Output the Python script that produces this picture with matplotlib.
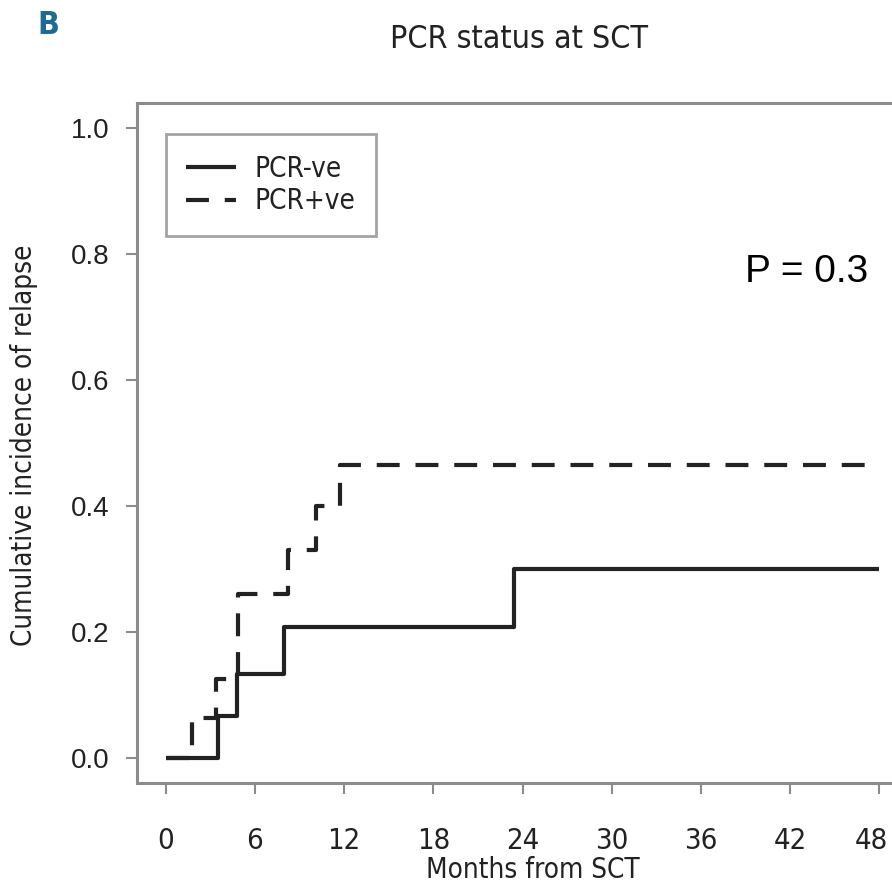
import matplotlib
matplotlib.use('Agg')
import matplotlib.pyplot as plt
import matplotlib.transforms as mtransforms

# cumulative incidence of relapse
months_neg = [0, 3.5, 4.8, 7.95, 23.4, 48]
cir_neg = [0, 0.067, 0.133, 0.207, 0.30, 0.30]

months_pos = [0, 1.75, 3.4, 4.9, 8.2, 10.1, 11.7, 48]
cir_pos = [0, 0.063, 0.125, 0.26, 0.33, 0.40, 0.465, 0.465]

x_ticks = [0, 6, 12, 18, 24, 30, 36, 42, 48]
y_ticks = [0.0, 0.2, 0.4, 0.6, 0.8, 1.0]

narrow = ['DejaVu Sans', 'Liberation Sans']
regular = ['Liberation Sans', 'DejaVu Sans']
cond = 'condensed'
txt = '#222222'
frame = '#8c8c8c'

fig = plt.figure(figsize=(8.92, 8.88), dpi=100)
ax = fig.add_axes([137 / 892, 1 - 783 / 888, 771 / 892, 680 / 888])

ax.step(months_neg, cir_neg, where='post', color='#222222', lw=3, label='PCR-ve',
        solid_capstyle='butt')
ax.step(months_pos, cir_pos, where='post', color='#222222', lw=3, label='PCR+ve',
        dashes=(5.5, 3.8), dash_capstyle='butt')

ax.set_xlim(-1.92, 49.92)
ax.set_ylim(-0.04, 1.04)
ax.set_xticks(x_ticks)
ax.set_yticks(y_ticks)
ax.set_xticklabels([str(v) for v in x_ticks], family=narrow, stretch=cond, fontsize=21,
                   color=txt)
ax.set_yticklabels(['%.1f' % v for v in y_ticks], family=regular, fontsize=20, color=txt)
ax.tick_params(axis='x', direction='out', length=8, width=1.5, color=frame, pad=24)
ax.tick_params(axis='y', direction='out', length=8, width=1.5, color=frame, pad=12)

# last label sits a little left of its tick so it stays inside the figure
last = ax.get_xticklabels()[-1]
last.set_transform(last.get_transform() +
                   mtransforms.ScaledTranslation(-8 / 100, 0, fig.dpi_scale_trans))

for s in ax.spines.values():
    s.set_color(frame)
    s.set_linewidth(2.2)

ax.set_xlabel('Months from SCT', family=narrow, stretch=cond, fontsize=20, color=txt)
ax.xaxis.set_label_coords(0.5 + (532 - 522) / 771, (783 - 856) / 680)
ax.set_ylabel('Cumulative incidence of relapse', family=narrow, stretch=cond, fontsize=20,
              color=txt)
ax.yaxis.set_label_coords((38 - 137) / 771, (783 - 445) / 680)

leg = ax.legend(loc='upper left', bbox_to_anchor=(0.037, 0.954), frameon=True,
                fancybox=False, edgecolor=frame,
                prop={'family': narrow, 'stretch': cond, 'size': 20},
                handlelength=1.8, handletextpad=0.65, labelspacing=0.15,
                borderpad=0.75, borderaxespad=0)
leg.get_frame().set_linewidth(2)
for t in leg.get_texts():
    t.set_color(txt)

ax.text(807 / 892, 1 - 272 / 888, 'P = 0.3', transform=fig.transFigure,
        family=regular, fontsize=28, ha='center', va='center', color='black')

fig.text(519 / 892, 1 - 40 / 888, 'PCR status at SCT', family=narrow, stretch=cond,
         fontsize=23, ha='center', va='center', color=txt)
fig.text(48 / 892, 1 - 25 / 888, 'B', family=narrow, stretch=cond, fontsize=23,
         fontweight='bold', ha='center', va='center', color='#1e6a96')

fig.savefig('out.png', dpi=100)
